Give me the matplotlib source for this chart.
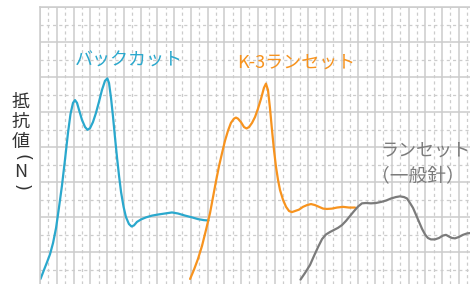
import matplotlib
matplotlib.use("Agg")
import matplotlib.pyplot as plt
import numpy as np

plt.rcParams['font.family'] = ['Noto Sans CJK JP', 'DejaVu Sans']

# curves (x: grid columns, y: grid rows)
backcut_x = [0.03, 0.24, 0.42, 0.60, 0.78, 0.96, 1.13, 1.31, 1.49, 1.67, 1.82, 1.97, 2.09, 2.21,
             2.33, 2.51, 2.69, 2.84, 2.99, 3.16, 3.34, 3.52, 3.70, 3.88, 4.02, 4.12, 4.24, 4.36,
             4.48, 4.60, 4.72, 4.84, 4.99, 5.13, 5.31, 5.46, 5.61, 5.79, 6.03, 6.33, 6.69, 7.04,
             7.46, 7.88, 8.24, 8.66, 9.07, 9.43, 9.79, 10.06]
backcut_y = [0.23, 0.49, 0.71, 0.94, 1.26, 1.69, 2.26, 2.89, 3.63, 4.40, 4.94, 5.26, 5.34, 5.26,
             5.06, 4.77, 4.57, 4.49, 4.54, 4.71, 4.97, 5.29, 5.63, 5.89, 5.96, 5.83, 5.40, 4.86,
             4.26, 3.69, 3.17, 2.71, 2.29, 2.00, 1.80, 1.73, 1.76, 1.86, 1.93, 1.99, 2.04, 2.07,
             2.10, 2.13, 2.10, 2.04, 1.99, 1.94, 1.91, 1.90]

k3_x = [8.96, 9.19, 9.43, 9.67, 9.91, 10.15, 10.33, 10.51, 10.69, 10.87, 11.04, 11.22, 11.40,
        11.58, 11.70, 11.82, 12.00, 12.18, 12.33, 12.48, 12.66, 12.84, 13.01, 13.19, 13.37,
        13.49, 13.61, 13.73, 13.85, 13.97, 14.09, 14.21, 14.33, 14.51, 14.69, 14.87, 15.04,
        15.22, 15.46, 15.70, 15.94, 16.18, 16.42, 16.66, 16.90, 17.13, 17.43, 17.73, 18.09,
        18.45, 18.81]
k3_y = [0.23, 0.49, 0.80, 1.17, 1.63, 2.11, 2.57, 3.03, 3.46, 3.83, 4.17, 4.46, 4.69,
        4.81, 4.84, 4.81, 4.71, 4.57, 4.53, 4.57, 4.69, 4.86, 5.09, 5.37, 5.69,
        5.81, 5.63, 5.11, 4.49, 3.91, 3.43, 3.06, 2.77, 2.49, 2.29, 2.17, 2.14,
        2.17, 2.21, 2.29, 2.34, 2.37, 2.34, 2.29, 2.24, 2.23, 2.24, 2.27, 2.29,
        2.27, 2.27]

lancet_x = [15.55, 15.82, 16.12, 16.36, 16.60, 16.84, 17.07, 17.31, 17.55, 17.79, 18.03, 18.27,
            18.51, 18.75, 18.99, 19.22, 19.46, 19.76, 20.06, 20.36, 20.66, 20.96, 21.25, 21.49,
            21.73, 21.91, 22.09, 22.27, 22.45, 22.63, 22.81, 22.99, 23.16, 23.34, 23.58, 23.82,
            24.06, 24.24, 24.42, 24.60, 24.78, 25.01, 25.25, 25.49, 25.67]
lancet_y = [0.21, 0.40, 0.63, 0.89, 1.14, 1.37, 1.50, 1.57, 1.63, 1.69, 1.77, 1.89,
            2.03, 2.17, 2.30, 2.39, 2.40, 2.39, 2.40, 2.43, 2.47, 2.53, 2.57, 2.59,
            2.57, 2.53, 2.40, 2.26, 2.06, 1.86, 1.66, 1.50, 1.40, 1.36, 1.36, 1.40,
            1.47, 1.49, 1.44, 1.40, 1.39, 1.43, 1.49, 1.53, 1.54]

blue = '#2aa8cd'
orange = '#f7931e'
gray = '#7b7b7b'

fig = plt.figure(figsize=(4.7, 2.84), dpi=100)
ax = fig.add_axes([40/470, 0, 430/470, 277/284])

ax.set_xlim(0, 430/16.75)
ax.set_ylim(1 - 32/35, 8)
ax.set_xticks(np.arange(0, 26, 1))
ax.set_xticks(np.arange(0.5, 26, 1), minor=True)
ax.set_yticks(np.arange(1, 9, 1))
ax.set_yticks(np.arange(0.5, 8, 1), minor=True)
ax.grid(which='major', color='#cccccc', lw=1.1)
ax.grid(which='minor', color='#cccccc', lw=0.9, ls=(0, (2.5, 2.5)))
ax.tick_params(which='both', length=0, labelleft=False, labelbottom=False)
ax.set_axisbelow(True)
for s in ['right', 'bottom']:
    ax.spines[s].set_visible(False)
for s in ['left', 'top']:
    ax.spines[s].set_color('#cccccc')
    ax.spines[s].set_linewidth(1.1)

for xs, ys, c in [(backcut_x, backcut_y, blue), (k3_x, k3_y, orange), (lancet_x, lancet_y, gray)]:
    ax.plot(xs, ys, color=c, lw=1.6, solid_capstyle='round', solid_joinstyle='round')

ax.text(2.1, 6.46, 'バックカット', color=blue, fontsize=13, va='center')
ax.text(11.78, 6.4, 'K-3ランセット', color=orange, fontsize=13, va='center')
ax.text(20.3, 3.91, 'ランセット', color=gray, fontsize=13, va='center')
ax.text(19.75, 3.14, '（一般針）', color=gray, fontsize=13.5, va='center')

# vertical y label, one character per row
ylab = ['抵', '抗', '値']
ylab_py = [102, 122, 142]
for ch, py in zip(ylab, ylab_py):
    fig.text(21/470, 1 - py/284, ch, color='#333333', fontsize=13, ha='center', va='center')
fig.text(21/470, 1 - 157/284, '(', color='#333333', fontsize=13, ha='center', va='center',
         rotation=-90, family='DejaVu Sans')
fig.text(21/470, 1 - 172/284, 'N', color='#333333', fontsize=13, ha='center', va='center')
fig.text(21/470, 1 - 188/284, ')', color='#333333', fontsize=13, ha='center', va='center',
         rotation=-90, family='DejaVu Sans')

fig.savefig('out.png', dpi=100)
